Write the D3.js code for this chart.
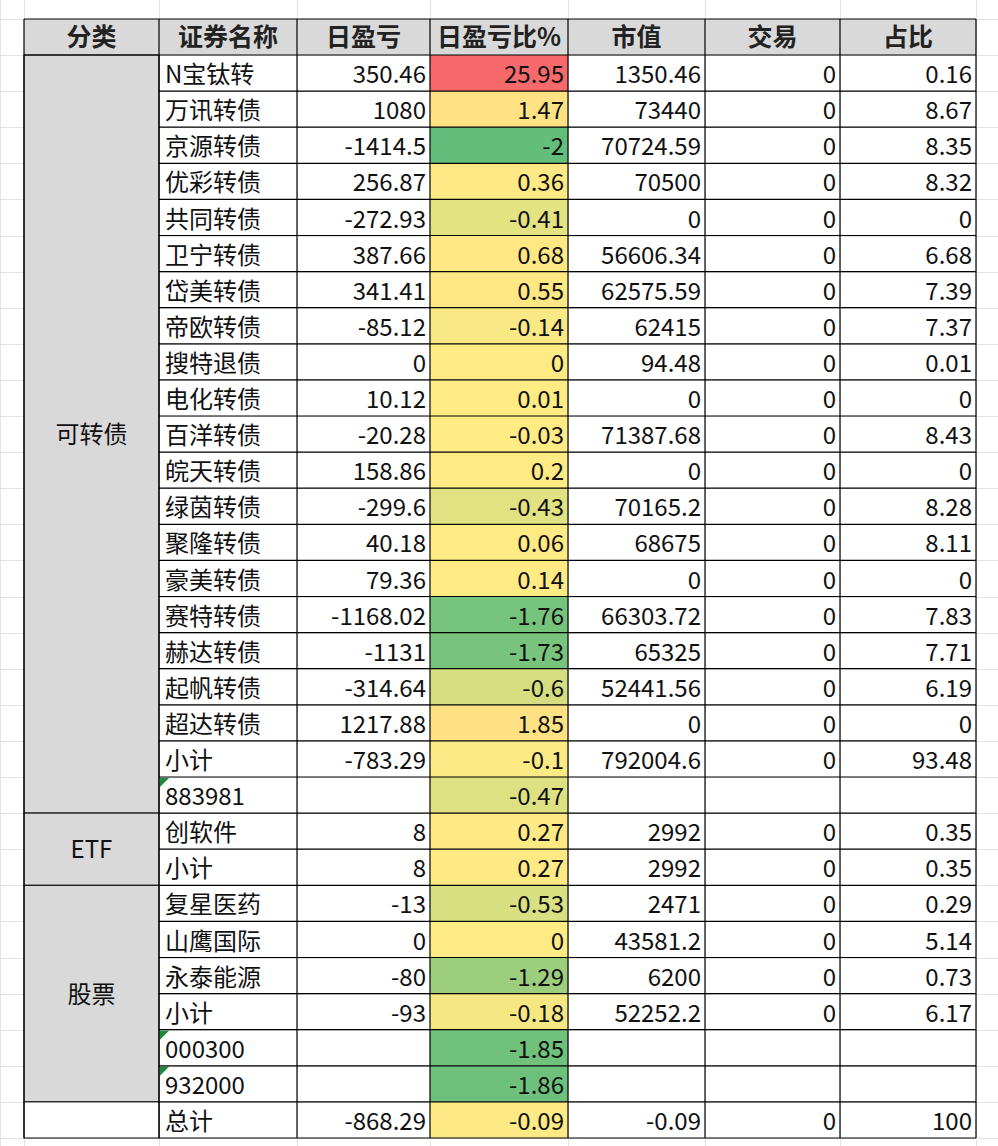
<!DOCTYPE html>
<html><head><meta charset="utf-8">
<script src="https://cdn.jsdelivr.net/npm/d3@7"></script>
<style>body{margin:0;background:#fff}</style>
</head><body>
<svg width="998" height="1146"></svg>
<script>
const headers = ["分类","证券名称","日盈亏","日盈亏比%","市值","交易","占比"];
const groups = [["可转债",21],["ETF",2],["股票",6],["",1]];
const names = ["N宝钛转","万讯转债","京源转债","优彩转债","共同转债","卫宁转债","岱美转债","帝欧转债","搜特退债","电化转债","百洋转债","皖天转债","绿茵转债","聚隆转债","豪美转债","赛特转债","赫达转债","起帆转债","超达转债","小计","883981","创软件","小计","复星医药","山鹰国际","永泰能源","小计","000300","932000","总计"];
const pnl = ["350.46","1080","-1414.5","256.87","-272.93","387.66","341.41","-85.12","0","10.12","-20.28","158.86","-299.6","40.18","79.36","-1168.02","-1131","-314.64","1217.88","-783.29","","8","8","-13","0","-80","-93","","","-868.29"];
const pct = ["25.95","1.47","-2","0.36","-0.41","0.68","0.55","-0.14","0","0.01","-0.03","0.2","-0.43","0.06","0.14","-1.76","-1.73","-0.6","1.85","-0.1","-0.47","0.27","0.27","-0.53","0","-1.29","-0.18","-1.85","-1.86","-0.09"];
const mv = ["1350.46","73440","70724.59","70500","0","56606.34","62575.59","62415","94.48","0","71387.68","0","70165.2","68675","0","66303.72","65325","52441.56","0","792004.6","","2992","2992","2471","43581.2","6200","52252.2","","","-0.09"];
const trade = ["0","0","0","0","0","0","0","0","0","0","0","0","0","0","0","0","0","0","0","0","","0","0","0","0","0","0","","","0"];
const share = ["0.16","8.67","8.35","8.32","0","6.68","7.39","7.37","0.01","0","8.43","0","8.28","8.11","0","7.83","7.71","6.19","0","93.48","","0.35","0.35","0.29","5.14","0.73","6.17","","","100"];
const textNum = ["883981","000300","932000"];

const svg = d3.select("svg");
const colX = [24,159,297,430,568,705,840,976];
const tableTop = 19, headH = 36, rowH = 36.1;
const font = "'Noto Sans CJK SC', sans-serif";
const y = d3.scaleLinear().domain([0, names.length]).range([tableTop+headH, tableTop+headH+names.length*rowH]);

// background spreadsheet grid
const bg = svg.append("g").attr("stroke","#e3e3e3").attr("stroke-width",1);
for (let i = -1; i <= names.length+1; i++) {
  const yy = Math.round(y(i)) + 0.5;
  bg.append("line").attr("x1",0).attr("x2",998).attr("y1",yy).attr("y2",yy);
}
[0].concat(colX).forEach(x => bg.append("line").attr("x1",x+0.5).attr("x2",x+0.5).attr("y1",0).attr("y2",1146));

const vals = pct.map(Number);
const sorted = vals.slice().sort(d3.ascending);
const color = d3.scaleLinear()
  .domain([d3.min(vals), d3.quantile(sorted,0.5), d3.max(vals)])
  .range(["#63be7b","#ffeb84","#f8696b"]);

// header
headers.forEach((h,i) => {
  svg.append("rect").attr("x",colX[i]).attr("y",tableTop).attr("width",colX[i+1]-colX[i]).attr("height",headH).attr("fill","#d9d9d9");
  svg.append("text").attr("x",(colX[i]+colX[i+1])/2).attr("y",tableTop+headH/2+9).attr("text-anchor","middle")
    .attr("font-family",font).attr("font-size",25).attr("font-weight","bold").attr("fill","#222").text(h);
});

// groups
let start = 0;
groups.forEach(([g,n]) => {
  svg.append("rect").attr("x",colX[0]).attr("y",y(start)).attr("width",colX[1]-colX[0]).attr("height",y(start+n)-y(start))
    .attr("fill", g ? "#d9d9d9" : "#fff").attr("stroke","#000");
  svg.append("text").attr("x",(colX[0]+colX[1])/2).attr("y",(y(start)+y(start+n))/2+9).attr("text-anchor","middle")
    .attr("font-family",font).attr("font-size",24).attr("fill","#111").text(g);
  start += n;
});

// cells
const cols = [pnl,pct,mv,trade,share];
names.forEach((nm,r) => {
  const y0 = y(r), y1 = y(r+1);
  svg.append("rect").attr("x",colX[3]).attr("y",y0).attr("width",colX[4]-colX[3]).attr("height",y1-y0).attr("fill",color(vals[r]));
  svg.append("text").attr("x",colX[1]+6).attr("y",y1-8).attr("font-family",font).attr("font-size",24).attr("fill","#111").text(nm);
  if (textNum.includes(nm)) {
    svg.append("path").attr("d",`M${colX[1]+1},${y0+1}h9l-9,9z`).attr("fill","#1f8a3c");
  }
  cols.forEach((c,j) => {
    svg.append("text").attr("x",colX[j+3]-4).attr("y",y1-8).attr("text-anchor","end")
      .attr("font-family",font).attr("font-size",24).attr("fill","#111").text(c[r]);
  });
});

// grid borders
const bl = svg.append("g").attr("stroke","#000").attr("stroke-width",1.2);
for (let i = 0; i <= names.length; i++) {
  const yy = y(i);
  bl.append("line").attr("x1",colX[1]).attr("x2",colX[7]).attr("y1",yy).attr("y2",yy);
}
bl.append("line").attr("x1",colX[0]).attr("x2",colX[7]).attr("y1",tableTop).attr("y2",tableTop);
bl.append("line").attr("x1",colX[0]).attr("x2",colX[1]).attr("y1",y(0)).attr("y2",y(0));
colX.forEach(x => bl.append("line").attr("x1",x).attr("x2",x).attr("y1",tableTop).attr("y2",y(names.length)));
</script>
</body></html>
